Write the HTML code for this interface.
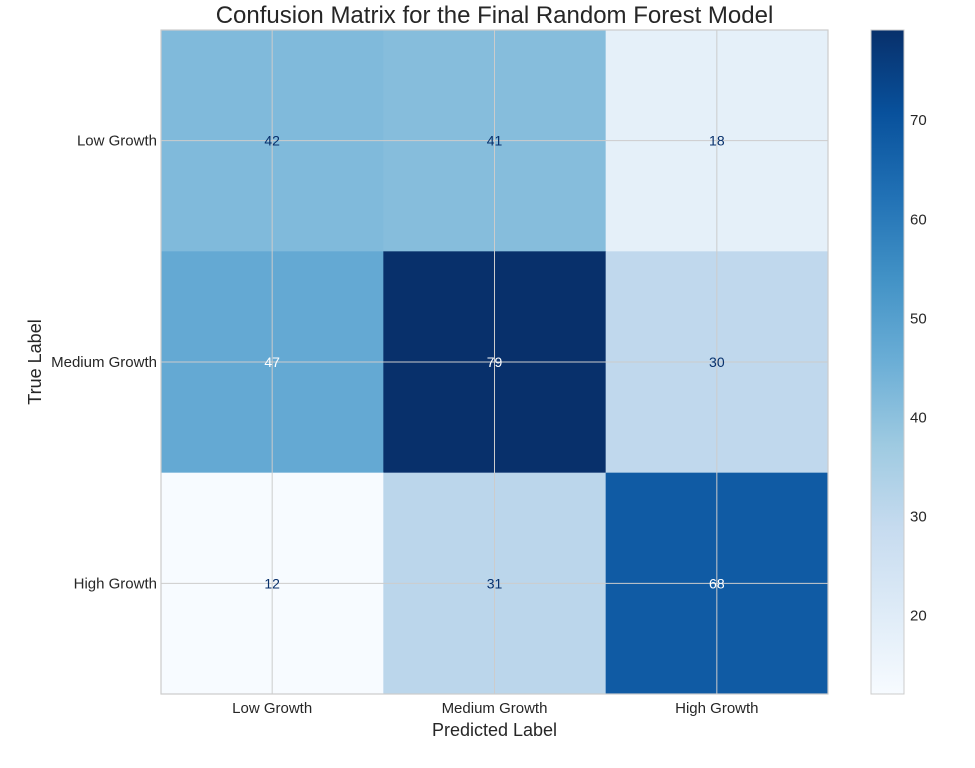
<!DOCTYPE html>
<html><head><meta charset="utf-8"><style>
body{margin:0;background:#fff;font-family:"Liberation Sans",sans-serif}
</style></head><body>
<svg id="chart" width="975" height="763" xmlns="http://www.w3.org/2000/svg"></svg>
<script>
const categoriesTrue=["Low Growth","Medium Growth","High Growth"];
const categoriesPred=["Low Growth","Medium Growth","High Growth"];
const matrixValues=[[42,41,18],[47,79,30],[12,31,68]];
const colorbarTicks=[20,30,40,50,60,70];
const NS="http://www.w3.org/2000/svg";
const svg=document.getElementById('chart');
const L=161,R=828,T=30,B=694;
const CBX=871,CBW=33;
let flat=matrixValues.flat();const vmin=Math.min(...flat),vmax=Math.max(...flat);
const stops=["#f7fbff","#deebf7","#c6dbef","#9ecae1","#6baed6","#4292c6","#2171b5","#08519c","#08306b"];
function hex(h){return [1,3,5].map(i=>parseInt(h.substr(i,2),16));}
function cmap(v){let t=(v-vmin)/(vmax-vmin);t=Math.max(0,Math.min(1,t));const p=t*8;const i=Math.min(7,Math.floor(p));const f=p-i;const a=hex(stops[i]),b=hex(stops[i+1]);return `rgb(${a.map((x,k)=>Math.round(x+(b[k]-x)*f)).join(',')})`;}
function el(tag,attrs,text){const e=document.createElementNS(NS,tag);for(const k in attrs)e.setAttribute(k,attrs[k]);if(text!==undefined)e.textContent=text;svg.appendChild(e);return e;}
const nR=categoriesTrue.length,nC=categoriesPred.length;
const cw=(R-L)/nC,ch=(B-T)/nR;
const xc=j=>L+cw*(j+0.5), yc=i=>T+ch*(i+0.5);
const yCb=v=>B-(v-vmin)/(vmax-vmin)*(B-T);
matrixValues.forEach((row,i)=>row.forEach((v,j)=>{
  const r=el('rect',{x:L+cw*j,y:T+ch*i,width:cw+0.5,height:ch+0.5,fill:cmap(v)});
  
  
}));
for(let j=0;j<nC;j++){const g=el('line',{x1:xc(j),x2:xc(j),y1:T,y2:B,stroke:'#cccccc','stroke-width':1});}
for(let i=0;i<nR;i++){const g=el('line',{x1:L,x2:R,y1:yc(i),y2:yc(i),stroke:'#cccccc','stroke-width':1});}
const mid=(vmin+vmax)/2;
matrixValues.forEach((row,i)=>row.forEach((v,j)=>{
  const t=el('text',{x:xc(j),y:yc(i)+5,'text-anchor':'middle','font-size':14,fill:v>mid?'#ffffff':'#08306b'},String(v));
  
  
}));
const fr=el('rect',{x:L,y:T,width:R-L,height:B-T,fill:'none',stroke:'#cccccc','stroke-width':1.2});

categoriesPred.forEach((c,j)=>{const t=el('text',{x:xc(j),y:B+19,'text-anchor':'middle','font-size':15,fill:'#262626'},c);});
categoriesTrue.forEach((c,i)=>{const t=el('text',{x:L-4,y:yc(i)+5,'text-anchor':'end','font-size':15,fill:'#262626'},c);});
let t=el('text',{x:(L+R)/2,y:736,'text-anchor':'middle','font-size':18,fill:'#262626'},'Predicted Label');
t=el('text',{x:0,y:0,'text-anchor':'middle','font-size':18,fill:'#262626',transform:`translate(41,${(T+B)/2}) rotate(-90)`},'True Label');
t=el('text',{x:(L+R)/2,y:23,'text-anchor':'middle','font-size':24,fill:'#262626'},'Confusion Matrix for the Final Random Forest Model');
const defs=el('defs',{});
const lg=document.createElementNS(NS,'linearGradient');lg.setAttribute('id','cbg');lg.setAttribute('x1','0');lg.setAttribute('y1','1');lg.setAttribute('x2','0');lg.setAttribute('y2','0');
stops.forEach((s,k)=>{const st=document.createElementNS(NS,'stop');st.setAttribute('offset',k/8);st.setAttribute('stop-color',s);lg.appendChild(st);});
defs.appendChild(lg);
const cb=el('rect',{x:CBX,y:T,width:CBW,height:B-T,fill:'url(#cbg)',stroke:'#cccccc','stroke-width':1});

colorbarTicks.forEach(v=>{const tt=el('text',{x:CBX+CBW+6,y:yCb(v)+6,'font-size':15,fill:'#262626'},String(v));});
</script>
</body></html>
